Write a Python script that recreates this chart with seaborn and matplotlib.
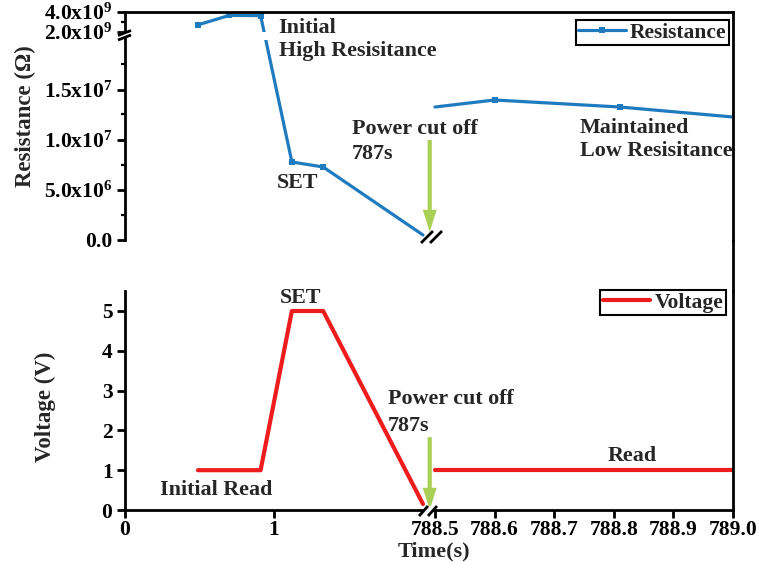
import numpy as np
import matplotlib
matplotlib.use("Agg")
import matplotlib.pyplot as plt
from matplotlib.lines import Line2D
from matplotlib.patches import Polygon
import seaborn as sns

W, H = 758, 562

# Resistance readings before and after the 787 s power cut-off
t_before = [0.49, 0.70, 0.91, 1.12, 1.33, 2.00]
r_before = [2.70e9, 3.62e9, 3.60e9, 7.75e6, 7.25e6, 0.45e6]
t_after = [788.50, 788.60, 788.81, 789.00]
r_after = [1.325e7, 1.395e7, 1.325e7, 1.225e7]

# Applied voltage pulse
vt_before = [0.49, 0.91, 1.12, 1.33, 2.00]
v_before = [1.0, 1.0, 5.0, 5.0, 0.15]
vt_after = [788.50, 789.00]
v_after = [1.0, 1.0]

x_ticks = [0, 1, 788.5, 788.6, 788.7, 788.8, 788.9, 789.0]
x_tick_labels = ["0", "1", "788.5", "788.6", "788.7", "788.8", "788.9", "789.0"]
r_ticks = [0, 5e6, 1e7, 1.5e7, 2e9, 4e9]
r_tick_labels = ["0.0", r"5.0x10$^6$", r"1.0x10$^7$", r"1.5x10$^7$",
                 r"2.0x10$^9$", r"4.0x10$^9$"]
r_minor = [2.5e6, 7.5e6, 1.25e7, 1.75e7, 3e9]
v_ticks = [0, 1, 2, 3, 4, 5]

BLUE = "#1f7bbf"
RED = "#ee1c1c"
GREEN = "#a9cf54"

sns.set_style("ticks")
plt.rcParams.update({
    "font.family": ["Liberation Serif", "DejaVu Serif"],
    "font.weight": "bold",
    "axes.labelweight": "bold",
    "mathtext.fontset": "custom",
    "mathtext.rm": "Liberation Serif:bold",
    "mathtext.it": "Liberation Serif:bold",
    "mathtext.bf": "Liberation Serif:bold",
    "mathtext.default": "rm",
    "axes.linewidth": 2.0,
    "axes.edgecolor": "black",
    "xtick.color": "black",
    "ytick.color": "black",
})


def broken(values, units):
    vb = np.asarray(values, float)
    ub = np.asarray(units, float)

    def fwd(v):
        return np.interp(np.asarray(v, float), vb, ub)

    def inv(u):
        return np.interp(np.asarray(u, float), ub, vb)

    return fwd, inv


# broken time axis: 0-2.06 s, then 788.5-789 s
x_fwd, x_inv = broken([0, 2.06, 788.495, 789.0], [0, 306.94, 307.02, 608.0])
# broken resistance axis: 0-2e7, then 2e9-4e9
r_fwd, r_inv = broken([0, 2e7, 2e9, 4e9], [0, 200, 207.5, 228])


def fx(x):
    return x / W


def fy(y):
    return 1 - y / H


fig = plt.figure(figsize=(W / 100, H / 100), dpi=100)
ax_r = fig.add_axes([fx(125), fy(239.5), 608 / W, 228 / H])
ax_v = fig.add_axes([fx(125), fy(510), 608 / W, (510 - 291.1) / H])

for ax in (ax_r, ax_v):
    ax.set_xscale("function", functions=(x_fwd, x_inv))
    ax.set_xlim(0, 789.0)
    ax.tick_params(which="major", direction="out", length=6, width=2.0,
                   labelsize=15.5, pad=3)
    ax.tick_params(which="minor", direction="out", length=3, width=1.6)
ax_v.tick_params(axis="x", which="major", pad=1.5)

# ---- resistance panel ----
ax_r.set_yscale("function", functions=(r_fwd, r_inv))
ax_r.set_ylim(0, 4e9)
sns.lineplot(x=t_before, y=r_before, ax=ax_r, color=BLUE, lw=2.3,
             marker="s", markersize=5, markeredgewidth=0,
             markevery=[0, 1, 2, 3, 4], legend=False, sort=False,
             estimator=None, zorder=2)
sns.lineplot(x=t_after, y=r_after, ax=ax_r, color=BLUE, lw=2.3,
             marker="s", markersize=5, markeredgewidth=0,
             markevery=[1, 2], legend=False, sort=False, estimator=None,
             zorder=2)
ax_r.axhspan(2.0e7, 2.0e9, color="white", lw=0, zorder=2.3)
ax_r.set_yticks(r_ticks)
ax_r.set_yticklabels(r_tick_labels)
ax_r.set_yticks(r_minor, minor=True)
ax_r.set_xticks([])
ax_r.set_xticks([], minor=True)
ax_r.spines["bottom"].set_visible(False)
ax_r.set_xlabel("")
ax_r.set_ylabel("")

h_r = [Line2D([], [], color=BLUE, lw=2.3, marker="s", markersize=5,
              markeredgewidth=0)]
leg = ax_r.legend(h_r, ["Resistance"], loc="upper right",
                  bbox_to_anchor=(fx(729), fy(20)),
                  bbox_transform=fig.transFigure, borderaxespad=0,
                  fontsize=15.5, frameon=True, fancybox=False,
                  edgecolor="black", handlelength=2.2, handletextpad=0.2,
                  borderpad=0.12, framealpha=1)
leg.get_frame().set_linewidth(1.5)

ax_r.annotate("", xy=(2.045, 0.75e6), xytext=(2.045, 9.95e6),
              arrowprops=dict(arrowstyle="simple,head_length=16,head_width=10,tail_width=3",
                              mutation_scale=1, color=GREEN, lw=0,
                              shrinkA=0, shrinkB=0),
              annotation_clip=False, zorder=4)

# ---- voltage panel ----
ax_v.set_ylim(0, 5.5)
sns.lineplot(x=vt_before, y=v_before, ax=ax_v, color=RED, lw=3.0,
             legend=False, sort=False, estimator=None, zorder=2)
sns.lineplot(x=vt_after, y=v_after, ax=ax_v, color=RED, lw=3.0,
             legend=False, sort=False, estimator=None, zorder=2)
ax_v.set_yticks(v_ticks)
ax_v.set_xticks(x_ticks)
ax_v.set_xticklabels(x_tick_labels)
ax_v.set_xticks([], minor=True)
ax_v.set_yticks([], minor=True)
ax_v.spines["top"].set_visible(False)
ax_v.set_xlabel("")
ax_v.set_ylabel("")

h_v = [Line2D([], [], color=RED, lw=3.0)]
leg2 = ax_v.legend(h_v, ["Voltage"], loc="upper right",
                   bbox_to_anchor=(fx(726), fy(290)),
                   bbox_transform=fig.transFigure, borderaxespad=0,
                   fontsize=15.5, frameon=True, fancybox=False,
                   edgecolor="black", handlelength=2.2, handletextpad=0.2,
                   borderpad=0.12, framealpha=1)
leg2.get_frame().set_linewidth(1.5)

ax_v.annotate("", xy=(2.045, 0.0), xytext=(2.045, 1.83),
              arrowprops=dict(arrowstyle="simple,head_length=16,head_width=10,tail_width=3",
                              mutation_scale=1, color=GREEN, lw=0,
                              shrinkA=0, shrinkB=0),
              annotation_clip=False, zorder=4)

for ax in (ax_r, ax_v):
    for lab in ax.get_xticklabels() + ax.get_yticklabels():
        lab.set_fontweight("bold")

# right frame line joining both panels
fig.add_artist(Line2D([fx(733), fx(733)], [fy(239.5), fy(291.1)],
                      color="black", lw=2.0))


# axis break symbols
def break_mark(p1a, p1b, p2a, p2b):
    gap = Polygon([(fx(p1a[0]), fy(p1a[1])), (fx(p1b[0]), fy(p1b[1])),
                   (fx(p2b[0]), fy(p2b[1])), (fx(p2a[0]), fy(p2a[1]))],
                  closed=True, facecolor="white", edgecolor="none",
                  transform=fig.transFigure, zorder=5)
    fig.add_artist(gap)
    for a, b in ((p1a, p1b), (p2a, p2b)):
        fig.add_artist(Line2D([fx(a[0]), fx(b[0])], [fy(a[1]), fy(b[1])],
                              color="black", lw=2.0, zorder=6,
                              solid_capstyle="butt"))


break_mark((118, 35.5), (131, 30.5), (118, 40), (131, 35))
break_mark((421, 243), (433, 231), (430, 243), (442, 231))
break_mark((419, 516), (428, 506), (428, 516), (437, 506))

# annotations
TXT = dict(fontsize=15.8, fontweight="bold", ha="left", va="baseline",
           zorder=7)
notes = [
    (278, 33, "Initial"), (279, 56, "High Resisitance"),
    (277, 188, "SET"),
    (352, 134, "Power cut off"), (352, 159, "787s"),
    (580, 133, "Maintained"), (580, 156, "Low Resisitance"),
    (280, 303, "SET"),
    (160, 495, "Initial Read"),
    (388, 404, "Power cut off"), (388, 431, "787s"),
    (608, 461, "Read"),
]
for x, y, s in notes:
    fig.text(fx(x), fy(y), s, **TXT)

fig.text(fx(25), fy(116), "Resistance (Ω)", rotation=90, ha="center",
         va="center", fontsize=16.5, fontweight="bold")
fig.text(fx(45), fy(407), "Voltage (V)", rotation=90, ha="center",
         va="center", fontsize=16.5, fontweight="bold")
fig.text(fx(434), fy(556), "Time(s)", ha="center", va="baseline",
         fontsize=16, fontweight="bold")

fig.savefig("out.png", dpi=100)
